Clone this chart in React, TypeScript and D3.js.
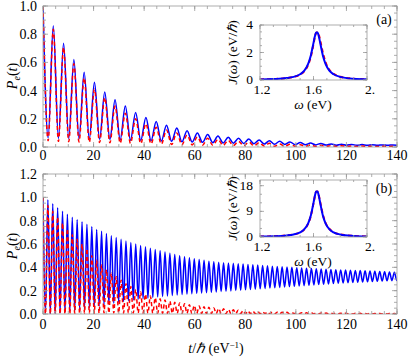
import React from 'react';
import * as d3 from 'd3';

const W = 415;
const H = 358;
const FONT = '"Liberation Serif", "Times New Roman", Times, serif';
const BLUE = '#0000ff';
const RED = '#ff0000';
const FRAME = '#999999';

// panel (a): extrema of P_e(t), period read from the peak spacing
const periodA = 4.07;
const peaksA_blue = [0.86, 0.735, 0.62, 0.53, 0.46, 0.39, 0.335, 0.29, 0.245, 0.21, 0.18, 0.155, 0.135, 0.115, 0.1, 0.088, 0.078, 0.07, 0.062, 0.056, 0.05, 0.045, 0.04, 0.036, 0.032, 0.028, 0.025, 0.022, 0.02, 0.018, 0.017, 0.016, 0.015, 0.015];
const troughsA_blue = [0.065, 0.06, 0.06, 0.058, 0.056, 0.055, 0.053, 0.05, 0.048, 0.046, 0.044, 0.042, 0.04, 0.037, 0.035, 0.033, 0.031, 0.029, 0.027, 0.025, 0.023, 0.021, 0.02, 0.018, 0.017, 0.016, 0.015, 0.014, 0.013, 0.013, 0.012, 0.012, 0.012, 0.012, 0.012];
const peaksA_red = [0.835, 0.705, 0.59, 0.49, 0.41, 0.35, 0.29, 0.24, 0.2, 0.165, 0.14, 0.12, 0.1, 0.085, 0.072, 0.062, 0.054, 0.047, 0.04, 0.035, 0.03, 0.026, 0.022, 0.019, 0.016, 0.014, 0.012, 0.01, 0.009, 0.008, 0.007, 0.006, 0.006, 0.005];
const troughsA_red = [0.045, 0.04, 0.038, 0.036, 0.034, 0.032, 0.03, 0.028, 0.026, 0.024, 0.022, 0.02, 0.018, 0.016, 0.015, 0.013, 0.012, 0.011, 0.01, 0.009, 0.008, 0.007, 0.006, 0.006, 0.005, 0.005, 0.004, 0.004, 0.004, 0.004, 0.003, 0.003, 0.003, 0.003, 0.003];

// panel (b)
const periodB = 1.93;
const peaksB_blue = [
  0.98, 0.945, 0.91, 0.88, 0.855, 0.83, 0.81, 0.79, 0.77, 0.75,
  0.725, 0.71, 0.69, 0.67, 0.655, 0.64, 0.625, 0.612, 0.6, 0.588,
  0.576, 0.564, 0.553, 0.542, 0.531, 0.52, 0.51, 0.5, 0.49, 0.482,
  0.474, 0.467, 0.46, 0.453, 0.447, 0.443, 0.44, 0.437, 0.434, 0.431,
  0.428, 0.425, 0.422, 0.419, 0.416, 0.413, 0.41, 0.407, 0.405, 0.402,
  0.4, 0.397, 0.395, 0.393, 0.39, 0.388, 0.386, 0.384, 0.382, 0.38,
  0.378, 0.377, 0.375, 0.373, 0.372, 0.37, 0.368, 0.366, 0.364, 0.362,
  0.36, 0.358, 0.357];
const troughsB_blue = [
  0, 0, 0.003, 0.008, 0.014, 0.021, 0.029, 0.037, 0.045, 0.053,
  0.061, 0.069, 0.077, 0.085, 0.093, 0.1, 0.107, 0.114, 0.12, 0.126,
  0.132, 0.137, 0.142, 0.147, 0.151, 0.155, 0.159, 0.163, 0.167, 0.171,
  0.174, 0.177, 0.18, 0.183, 0.186, 0.189, 0.192, 0.195, 0.198, 0.201,
  0.204, 0.207, 0.21, 0.213, 0.216, 0.219, 0.222, 0.225, 0.228, 0.231,
  0.234, 0.237, 0.24, 0.243, 0.246, 0.249, 0.252, 0.255, 0.258, 0.261,
  0.264, 0.266, 0.268, 0.27, 0.272, 0.274, 0.276, 0.278, 0.28, 0.282,
  0.284, 0.286, 0.288];
const peaksB_red = [
  0.93, 0.88, 0.83, 0.78, 0.73, 0.68, 0.64, 0.6, 0.56, 0.5,
  0.46, 0.42, 0.38, 0.35, 0.32, 0.29, 0.26, 0.235, 0.21, 0.19,
  0.17, 0.155, 0.14, 0.13, 0.12, 0.11, 0.1, 0.095, 0.088, 0.08,
  0.074, 0.068, 0.062, 0.057, 0.052, 0.048, 0.044, 0.04, 0.036, 0.033,
  0.03, 0.027, 0.025, 0.023, 0.021, 0.019, 0.017, 0.016, 0.015, 0.014,
  0.013, 0.012, 0.011, 0.01, 0.01, 0.009, 0.009, 0.008, 0.008, 0.007,
  0.007, 0.007, 0.006, 0.006, 0.006, 0.005, 0.005, 0.005, 0.005, 0.004,
  0.004, 0.004, 0.004];
const troughsB_red = [
  0, 0, 0, 0.001, 0.002, 0.003, 0.004, 0.005, 0.006, 0.006,
  0.007, 0.007, 0.008, 0.008, 0.008, 0.008, 0.008, 0.008, 0.008, 0.008,
  0.007, 0.007, 0.007, 0.007, 0.006, 0.006, 0.006, 0.006, 0.005, 0.005,
  0.005, 0.005, 0.004, 0.004, 0.004, 0.004, 0.004, 0.003, 0.003, 0.003,
  0.003, 0.003, 0.003, 0.002, 0.002, 0.002, 0.002, 0.002, 0.002, 0.002,
  0.002, 0.002, 0.002, 0.002, 0.002, 0.002, 0.001, 0.001, 0.001, 0.001,
  0.001, 0.001, 0.001, 0.001, 0.001, 0.001, 0.001, 0.001, 0.001, 0.001,
  0.001, 0.001, 0.001];

// insets: spectral density J(omega)
const omega = [1.2, 1.3, 1.4, 1.45, 1.5, 1.53, 1.56, 1.58, 1.6, 1.61, 1.62, 1.63, 1.64, 1.65, 1.67, 1.69, 1.72, 1.75, 1.8, 1.9, 2.0];
const jA_blue = [0.04, 0.07, 0.14, 0.23, 0.42, 0.66, 1.17, 1.79, 2.7, 3.16, 3.46, 3.46, 3.16, 2.7, 1.79, 1.17, 0.66, 0.42, 0.23, 0.09, 0.05];
const jA_red = [0.04, 0.07, 0.14, 0.22, 0.4, 0.63, 1.1, 1.7, 2.6, 3.1, 3.42, 3.48, 3.28, 2.88, 1.98, 1.3, 0.72, 0.45, 0.24, 0.1, 0.05];
const jB_blue = [0.16, 0.27, 0.55, 0.88, 1.64, 2.65, 4.77, 7.54, 11.96, 14.36, 15.97, 15.97, 14.36, 11.96, 7.54, 4.77, 2.65, 1.64, 0.88, 0.37, 0.2];
const jB_red = [0.16, 0.27, 0.55, 0.87, 1.6, 2.6, 4.7, 7.4, 11.8, 14.2, 15.9, 16.0, 14.6, 12.3, 7.9, 5.0, 2.8, 1.7, 0.9, 0.38, 0.2];

const xTicksMain = [0, 20, 40, 60, 80, 100, 120, 140];
const yTicksA = [0, 0.2, 0.4, 0.6, 0.8, 1.0];
const yTicksB = [0, 0.2, 0.4, 0.6, 0.8, 1.0, 1.2];
const xTicksInset = [1.2, 1.6, 2.0];
const xLabelsInset = ['1.2', '1.6', '2.'];
const yTicksInsetA = [0, 2, 4];
const yTicksInsetB = [0, 9, 18];

function extrema(period: number, troughs: number[], peaks: number[]) {
  const pts: [number, number][] = [[0, 1]];
  const n = Math.max(troughs.length, peaks.length);
  for (let i = 0; i < n; i++) {
    if (i < troughs.length) pts.push([(i + 0.5) * period, troughs[i]]);
    if (i < peaks.length) pts.push([(i + 1) * period, peaks[i]]);
  }
  return pts;
}

type Lin = d3.ScaleLinear<number, number>;

function Frame({ x, y, xMajor, xMinor, yMajor, yMinor, major = 5, minor = 3 }:
  { x: Lin; y: Lin; xMajor: number[]; xMinor: number[]; yMajor: number[]; yMinor: number[]; major?: number; minor?: number }) {
  const [x0, x1] = x.range();
  const [y0, y1] = y.range(); // y0 bottom, y1 top
  const ticks: JSX.Element[] = [];
  const addX = (vals: number[], len: number, key: string) => {
    vals.forEach((v, i) => {
      const px = x(v);
      ticks.push(<line key={key + 'b' + i} x1={px} x2={px} y1={y0} y2={y0 - len} />);
      ticks.push(<line key={key + 't' + i} x1={px} x2={px} y1={y1} y2={y1 + len} />);
    });
  };
  const addY = (vals: number[], len: number, key: string) => {
    vals.forEach((v, i) => {
      const py = y(v);
      ticks.push(<line key={key + 'l' + i} x1={x0} x2={x0 + len} y1={py} y2={py} />);
      ticks.push(<line key={key + 'r' + i} x1={x1} x2={x1 - len} y1={py} y2={py} />);
    });
  };
  addX(xMajor, major, 'xM');
  addX(xMinor, minor, 'xm');
  addY(yMajor, major, 'yM');
  addY(yMinor, minor, 'ym');
  return (
    <g stroke={FRAME} strokeWidth={0.8} fill="none">
      {ticks}
      <rect x={x0} y={y1} width={x1 - x0} height={y0 - y1} />
    </g>
  );
}

function Inset({ yDomain, yTop, yBottom, yTicks, yMinor, blue, red, tag, tagY, id }:
  { yDomain: [number, number]; yTop: number; yBottom: number; yTicks: number[]; yMinor: number[]; blue: number[]; red: number[]; tag: string; tagY: number; id: string }) {
  const x = d3.scaleLinear().domain([1.2, 2.0]).range([260, 367]);
  const y = d3.scaleLinear().domain(yDomain).range([yBottom, yTop]);
  const line = d3.line<number>().x((_, i) => x(omega[i])).y(d => y(d)).curve(d3.curveMonotoneX);
  const xMinor = d3.range(1.2, 2.0001, 0.1);
  return (
    <g>
      <rect x={260} y={yTop} width={107} height={yBottom - yTop} fill="#fff" />
      <clipPath id={id}><rect x={260} y={yTop - 1} width={107} height={yBottom - yTop + 1} /></clipPath>
      <g clipPath={`url(#${id})`} fill="none">
        <path d={line(red) || ''} stroke={RED} strokeWidth={2} strokeDasharray="4 3" />
        <path d={line(blue) || ''} stroke={BLUE} strokeWidth={2} />
      </g>
      <Frame x={x} y={y} xMajor={xTicksInset} xMinor={xMinor} yMajor={yTicks} yMinor={yMinor} major={4} minor={2} />
      {xTicksInset.map((v, i) => (
        <text key={'ix' + i} x={x(v) + (i === 0 ? 2 : i === 2 ? 3 : 0)} y={yBottom + 14} fontSize={13.5} textAnchor="middle">{xLabelsInset[i]}</text>
      ))}
      {yTicks.map((v, i) => (
        <text key={'iy' + i} x={253} y={y(v) + 4} fontSize={13.5} textAnchor="end">{v}</text>
      ))}
      <text x={313} y={yBottom + 29} fontSize={13.5} textAnchor="middle">
        <tspan fontStyle="italic">ω</tspan> (eV)
      </text>
      <text transform={`translate(237,${(yTop + yBottom) / 2}) rotate(-90)`} fontSize={13.5} textAnchor="middle">
        <tspan fontStyle="italic">J</tspan>(<tspan fontStyle="italic">ω</tspan>) (eV/<tspan fontStyle="italic">ℏ</tspan>)
      </text>
      <text x={384} y={tagY} fontSize={14} textAnchor="middle">{tag}</text>
    </g>
  );
}

function Panel({ y, yTicks, blue, red, id, xLabelY, pLabelY }:
  { y: Lin; yTicks: number[]; blue: [number, number][]; red: [number, number][]; id: string; xLabelY: number; pLabelY: number }) {
  const x = d3.scaleLinear().domain([0, 140]).range([43, 397]);
  const line = d3.line<[number, number]>().x(d => x(d[0])).y(d => y(d[1])).curve(d3.curveMonotoneX);
  const [yb, yt] = y.range();
  const yMax = y.domain()[1];
  return (
    <g>
      <clipPath id={id}><rect x={43} y={yt - 1} width={354} height={yb - yt + 1} /></clipPath>
      <g clipPath={`url(#${id})`} fill="none">
        <path d={line(blue) || ''} stroke={BLUE} strokeWidth={1.5} />
        <path d={line(red) || ''} stroke={RED} strokeWidth={1.5} strokeDasharray="4 3" />
      </g>
      <Frame x={x} y={y} xMajor={xTicksMain} xMinor={d3.range(0, 141, 5)} yMajor={yTicks} yMinor={d3.range(0, yMax + 0.001, 0.05)} />
      {xTicksMain.map((v, i) => (
        <text key={'x' + i} x={x(v)} y={xLabelY} fontSize={14} textAnchor="middle">{v}</text>
      ))}
      {yTicks.map((v, i) => (
        <text key={'y' + i} x={37} y={y(v) + 5} fontSize={14} textAnchor="end">{v.toFixed(1)}</text>
      ))}
      <text transform={`translate(17,${pLabelY}) rotate(-90)`} fontSize={14} textAnchor="middle">
        <tspan fontStyle="italic">P</tspan><tspan fontStyle="italic" fontSize={10} dy={3}>e</tspan><tspan dy={-3}>(</tspan><tspan fontStyle="italic">t</tspan>)
      </text>
    </g>
  );
}

export default function App() {
  const yA = d3.scaleLinear().domain([0, 1]).range([147, 6]);
  const yB = d3.scaleLinear().domain([0, 1.2]).range([314, 174]);
  return (
    <svg width={W} height={H} style={{ position: 'absolute', left: 0, top: 0, background: '#fff', fontFamily: FONT }}>
      <Panel y={yA} yTicks={yTicksA} id="clipA" xLabelY={160} pLabelY={76}
        blue={extrema(periodA, troughsA_blue, peaksA_blue)} red={extrema(periodA, troughsA_red, peaksA_red)} />
      <Panel y={yB} yTicks={yTicksB} id="clipB" xLabelY={329} pLabelY={246}
        blue={extrema(periodB, troughsB_blue, peaksB_blue)} red={extrema(periodB, troughsB_red, peaksB_red)} />
      <Inset yDomain={[0, 4]} yTop={25} yBottom={80} yTicks={yTicksInsetA} yMinor={d3.range(0, 4.01, 0.5)}
        blue={jA_blue} red={jA_red} tag="(a)" tagY={24} id="clipIA" />
      <Inset yDomain={[0, 20]} yTop={180} yBottom={237} yTicks={yTicksInsetB} yMinor={d3.range(0, 20.01, 3)}
        blue={jB_blue} red={jB_red} tag="(b)" tagY={193} id="clipIB" />
      <text x={216} y={353} fontSize={14} textAnchor="middle">
        <tspan fontStyle="italic">t</tspan>/<tspan fontStyle="italic">ℏ</tspan> (eV<tspan fontSize={9} dy={-5}>−1</tspan><tspan dy={5}>)</tspan>
      </text>
    </svg>
  );
}
